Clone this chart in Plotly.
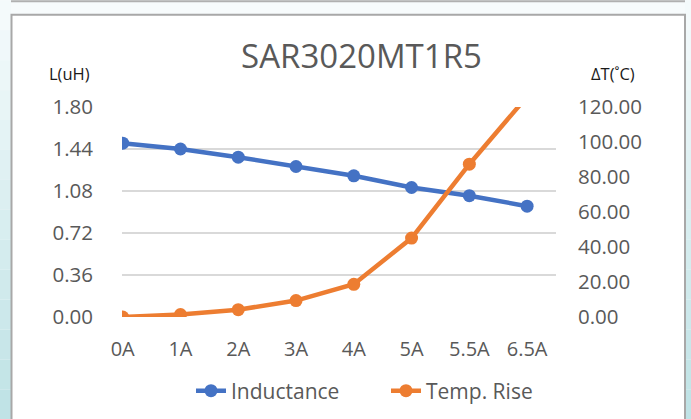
import plotly.graph_objects as go

categories = ["0A", "1A", "2A", "3A", "4A", "5A", "5.5A", "6.5A"]
inductance = [1.49, 1.44, 1.37, 1.29, 1.21, 1.11, 1.04, 0.95]
temp_rise = [0.0, 1.4, 4.2, 9.4, 18.7, 45.1, 87.3, 126.0]
left_ticks = [0.00, 0.36, 0.72, 1.08, 1.44, 1.80]
right_ticks = [0, 20, 40, 60, 80, 100, 120]

W, H = 691, 419
PL, PR, PT, PB = 122, 556, 106.7, 316.7

def px(x):
    return (x - PL) / (PR - PL)

def py(y):
    return (PB - y) / (PB - PT)

BLUE = "#4472C4"
ORANGE = "#ED7D31"
GRAY = "#595959"
FONT = "Open Sans"

fig = go.Figure()
fig.add_trace(go.Scatter(x=categories, y=inductance, name="Inductance", mode="lines+markers",
                         line=dict(color=BLUE, width=4.5), marker=dict(size=13, color=BLUE)))
fig.add_trace(go.Scatter(x=categories, y=temp_rise, name="Temp. Rise", mode="lines+markers",
                         line=dict(color=ORANGE, width=4.5), marker=dict(size=13, color=ORANGE),
                         yaxis="y2"))

shapes = []
n = 14
def lerp(c1, c2, t):
    return "rgb(%d,%d,%d)" % tuple(round(a + (b - a) * t) for a, b in zip(c1, c2))
top_c = (246, 251, 252)
bot_c = (190, 226, 229)
for i in range(n):
    y0 = i * H / n
    y1 = (i + 1) * H / n
    col = lerp(top_c, bot_c, (i + 0.5) / n)
    for (xa, xb) in [(0, 11), (685, W)]:
        shapes.append(dict(type="rect", xref="paper", yref="paper", x0=px(xa), x1=px(xb),
                           y0=py(y0), y1=py(y1), fillcolor=col, line=dict(width=0), layer="below"))
shapes.append(dict(type="line", xref="paper", yref="paper", x0=px(11), x1=px(685), y0=py(1), y1=py(1),
                   line=dict(color="#b0b0b0", width=2), layer="below"))
shapes.append(dict(type="rect", xref="paper", yref="paper", x0=px(11.5), x1=px(685), y0=py(14.5), y1=py(430),
                   fillcolor="white", line=dict(color="#a8a8a8", width=2), layer="below"))

annotations = [
    dict(text="L(uH)", xref="paper", yref="paper", x=px(69), y=py(73), showarrow=False,
         font=dict(family=FONT, size=16.5, color="#1a1a1a"), xanchor="center", yanchor="middle"),
    dict(text="ΔT(˚C)", xref="paper", yref="paper", x=px(613), y=py(73), showarrow=False,
         font=dict(family=FONT, size=16.5, color="#1a1a1a"), xanchor="center", yanchor="middle"),
]

fig.update_layout(
    width=W, height=H,
    margin=dict(l=PL, r=W - PR, t=PT, b=H - PB, pad=0, autoexpand=False),
    paper_bgcolor="#f7fbfc", plot_bgcolor="rgba(0,0,0,0)",
    font=dict(family=FONT, color=GRAY),
    title=dict(text="SAR3020MT1R5", xref="container", yref="container", x=361.5 / W, y=1 - 56 / H,
               xanchor="center", yanchor="middle", font=dict(family=FONT, size=33, color=GRAY)),
    xaxis=dict(type="category", range=[-0.012, 7.5], showgrid=False, zeroline=False, showline=False,
               automargin=False, ticks="", tickfont=dict(size=20, color=GRAY), ticklabelstandoff=18),
    yaxis=dict(range=[0, 1.8], tickvals=left_ticks, tickformat=".2f", showgrid=True, gridcolor="#d9d9d9",
               gridwidth=1.5, zeroline=False, showline=False, automargin=False, ticks="",
               tickfont=dict(size=20.5, color=GRAY), ticklabelstandoff=28),
    yaxis2=dict(range=[0, 120], tickvals=right_ticks, tickformat=".2f", overlaying="y", side="right",
                showgrid=False, zeroline=False, showline=False, automargin=False, ticks="",
                tickfont=dict(size=20.5, color=GRAY), ticklabelstandoff=21),
    legend=dict(orientation="h", xref="container", yref="container", x=386 / W, y=1 - 391 / H,
                xanchor="center", yanchor="middle", entrywidth=150, entrywidthmode="pixels",
                font=dict(size=21, color=GRAY), bgcolor="rgba(0,0,0,0)"),
    shapes=shapes, annotations=annotations,
)

fig.write_html("out.html", config={"displayModeBar": False},
               post_script="document.body.style.margin='0';document.body.style.overflow='hidden';")
